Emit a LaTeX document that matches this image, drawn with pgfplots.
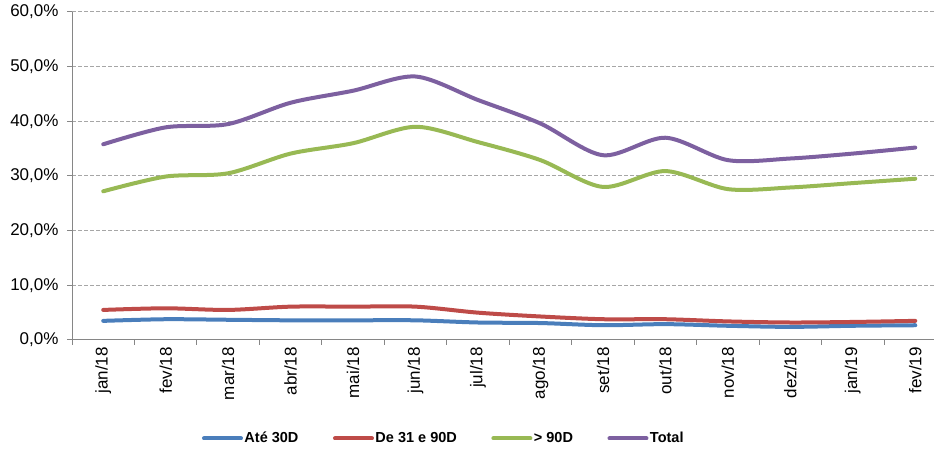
\documentclass[border=0pt]{standalone}
\usepackage{pgfplots}
\pgfplotsset{compat=1.18}
\usepackage{fontspec}
\setmainfont{Liberation Sans}
\definecolor{serblue}{HTML}{4A7EBB}
\definecolor{serred}{HTML}{BE4B48}
\definecolor{sergreen}{HTML}{98B954}
\definecolor{serpurple}{HTML}{7D60A0}
\definecolor{axisgray}{HTML}{868686}
\definecolor{gridgray}{HTML}{A6A6A6}

\begin{document}
\begin{tikzpicture}[x=1pt,y=1pt]
\useasboundingbox (0,0) rectangle (934,449);
\begin{axis}[
    at={(72pt,109pt)}, anchor=south west,
    scale only axis, width=862pt, height=328pt,
    xmin=-0.5, xmax=13.3, ymin=0, ymax=60,
    axis x line*=bottom, axis y line*=left,
    axis line style={draw=axisgray, line width=1pt, -},
    tick align=outside,
    major tick length=5pt, minor tick length=5pt,
    xtick={0,...,13},
    xticklabels={jan/18,fev/18,mar/18,abr/18,mai/18,jun/18,jul/18,ago/18,set/18,out/18,nov/18,dez/18,jan/19,fev/19},
    major x tick style={draw=none},
    minor xtick={-0.5,0.5,...,12.5},
    minor x tick style={draw=axisgray, line width=1pt},
    x tick label style={rotate=90, anchor=east, inner sep=2pt, font=\fontsize{17}{20}\selectfont},
    ytick={0,10,...,60},
    y tick style={draw=axisgray, line width=1pt},
    y tick label style={xshift=-5pt, font=\fontsize{17}{20}\selectfont},
    /pgf/number format/assume math mode=true,
    /pgf/number format/.cd, fixed, fixed zerofill, precision=1, use comma, /pgfplots/.cd,
    yticklabel={\pgfmathprintnumber{\tick}\%},
    ymajorgrids=true,
    grid style={draw=gridgray, line width=1pt, dash pattern=on 4pt off 2pt},
    every axis plot/.append style={line width=4pt, line cap=round, smooth, no markers},
    legend columns=4,
    legend style={at={(0.431,-0.300)}, anchor=center, draw=none, fill=none,
        font=\bfseries\fontsize{14.5}{16}\selectfont,
        nodes={inner xsep=1.5pt},
        /tikz/every even column/.append style={column sep=33pt}},
    legend image code/.code={\draw[#1] (0pt,0pt) -- (37pt,0pt);},
]
\addplot[serblue] coordinates {
    (0,3.5) (1,3.8) (2,3.7) (3,3.6) (4,3.6) (5,3.6) (6,3.2)
    (7,3.1) (8,2.7) (9,2.9) (10,2.6) (11,2.4) (12,2.6) (13,2.7)
};
\addlegendentry{Até 30D}
\addplot[serred] coordinates {
    (0,5.5) (1,5.8) (2,5.5) (3,6.1) (4,6.1) (5,6.1) (6,5.0)
    (7,4.3) (8,3.8) (9,3.8) (10,3.4) (11,3.2) (12,3.3) (13,3.5)
};
\addlegendentry{De 31 e 90D}
\addplot[sergreen] coordinates {
    (0,27.2) (1,29.9) (2,30.5) (3,34.1) (4,36.0) (5,39.0) (6,36.2)
    (7,32.9) (8,28.0) (9,30.9) (10,27.6) (11,27.9) (12,28.7) (13,29.5)
};
\addlegendentry{> 90D}
\addplot[serpurple] coordinates {
    (0,35.8) (1,38.9) (2,39.5) (3,43.4) (4,45.6) (5,48.2) (6,43.9)
    (7,39.6) (8,33.8) (9,37.0) (10,32.9) (11,33.2) (12,34.1) (13,35.2)
};
\addlegendentry{Total}
\end{axis}
\end{tikzpicture}
\end{document}
